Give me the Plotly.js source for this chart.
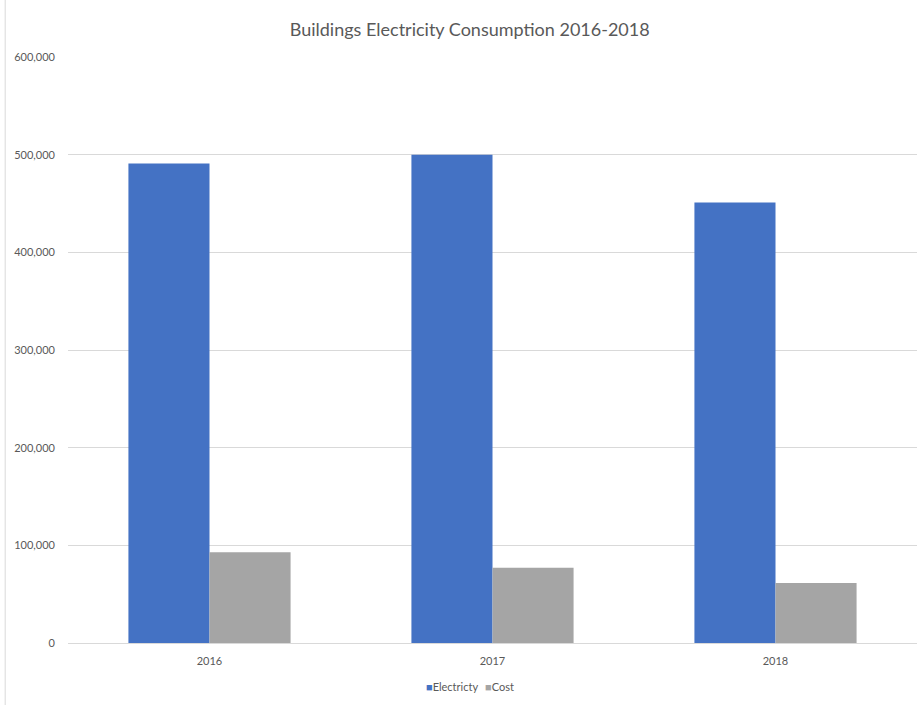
<!DOCTYPE html>
<html>
<head>
<meta charset="utf-8">
<script src="https://cdn.plot.ly/plotly-3.0.1.min.js"></script>
<style>html,body{margin:0;padding:0;background:#fff;}#chart{width:921px;height:705px;}</style>
</head>
<body>
<div id="chart"></div>
<script>
const years = ['2016', '2017', '2018'];
const electricity = [491000, 500000, 451000];
const cost = [93000, 77000, 61500];
const seriesNames = ['Electricty', 'Cost'];
const seriesColors = ['#4472c4', '#a5a5a5'];

const font = 'Lato, "Open Sans", "Liberation Sans", sans-serif';

const traces = [
  {type: 'bar', name: seriesNames[0], x: years, y: electricity,
   marker: {color: seriesColors[0]}, hoverinfo: 'x+y'},
  {type: 'bar', name: seriesNames[1], x: years, y: cost,
   marker: {color: seriesColors[1]}, hoverinfo: 'x+y'}
];

const legendX = [0.419, 0.489];
const legendAnnotations = seriesNames.map((n, i) => ({
  xref: 'paper', yref: 'paper', x: legendX[i], xanchor: 'left', y: -0.075, yanchor: 'middle',
  text: `<span style="color:${seriesColors[i]}">■</span>${n}`, showarrow: false,
  font: {size: 11, color: '#595959'}
}));

const layout = {
  width: 921, height: 705,
  margin: {l: 68, r: 4, t: 57, b: 62},
  paper_bgcolor: '#ffffff', plot_bgcolor: '#ffffff',
  font: {family: font, color: '#595959', size: 11},
  title: {text: 'Buildings Electricity Consumption 2016-2018', x: 0.51, xanchor: 'center', y: 0.958, yanchor: 'middle',
          font: {family: font, size: 18, color: '#595959'}},
  barmode: 'group', bargap: 0.427, bargroupgap: 0,
  xaxis: {type: 'category', showgrid: false, showline: false, ticks: '', ticklabelstandoff: 10,
          tickfont: {size: 11, color: '#595959'}},
  yaxis: {range: [0, 600000], dtick: 100000, tickformat: ',d', showgrid: true, gridcolor: '#d9d9d9', gridwidth: 1,
          zeroline: true, zerolinecolor: '#d9d9d9', zerolinewidth: 1, showline: false, ticks: '', ticklabelstandoff: 12,
          tickfont: {size: 11, color: '#595959'}},
  showlegend: false,
  annotations: legendAnnotations,
  shapes: [{type: 'line', xref: 'paper', yref: 'paper', x0: -0.074, x1: -0.074, y0: -0.11, y1: 1.1,
            line: {color: '#d9d9d9', width: 1}}]
};

Plotly.newPlot('chart', traces, layout, {displayModeBar: false, staticPlot: true});
</script>
</body>
</html>
